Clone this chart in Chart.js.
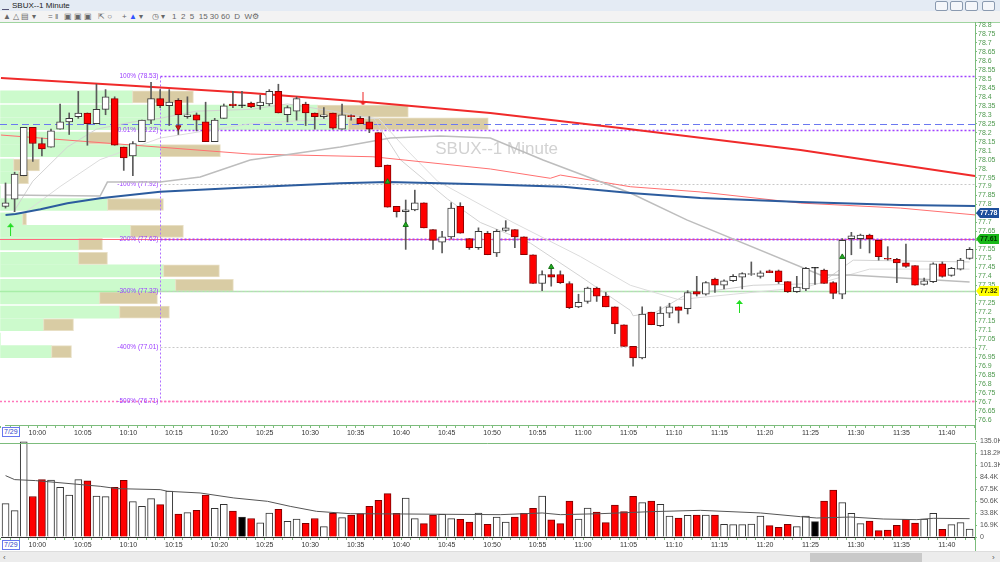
<!DOCTYPE html>
<html>
<head>
<meta charset="utf-8">
<script src="https://cdn.jsdelivr.net/npm/chart.js@4.4.0/dist/chart.umd.min.js"></script>
<style>
  body { margin: 0; width: 1000px; height: 562px; overflow: hidden; background: #fff; position: relative; font-family: "Liberation Sans", Arial, sans-serif; }
  #titlebar { position: absolute; left: 0; top: 0; width: 1000px; height: 11px; background: #e4ebf4; font-size: 8px; line-height: 11px; color: #222; }
  #titlebar .ico { position: absolute; left: 2px; top: 2px; width: 7px; height: 7px; border-bottom: 1px solid #557; }
  #titlebar .name { position: absolute; left: 12px; top: 0; }
  #titlebar .btn { position: absolute; top: 1px; width: 11px; height: 8px; border: 1px solid #8a9ab0; border-radius: 2px; background: #f4f6fa; }
  #toolbar { position: absolute; left: 0; top: 11px; width: 1000px; height: 11px; background: #f3f3f3; font-size: 8px; line-height: 11px; color: #666; border-bottom: 1px solid #9fd49f; }
  #toolbar span { position: absolute; top: 0; }
  .box { position: absolute; font-size: 7px; line-height: 8px; color: #3344cc; border: 1px solid #6677ee; padding: 0 1px; background: #fff; }
  #price { position: absolute; left: 0; top: 22px; }
  #volume { position: absolute; left: 0; top: 436px; }
  #scroll { position: absolute; left: 0; top: 551px; width: 1000px; height: 11px; background: #ececec; border-top: 1px solid #ddd; }
  #scroll .thumb { position: absolute; left: 810px; top: 1px; width: 112px; height: 9px; background: #c9c9c9; }
  #scroll .a { position: absolute; top: 0; font-size: 8px; line-height: 11px; color: #555; }
</style>
</head>
<body>
<div id="titlebar">
  <div class="ico"></div><div class="name">SBUX--1 Minute</div>
  <div class="btn" style="left:935px"></div><div class="btn" style="left:950px"></div>
  <div class="btn" style="left:965px"></div><div class="btn" style="left:982px"></div>
</div>
<div id="toolbar">
  <span style="left:3px">&#9650; &#9651; &#9636; &#9662;</span>
  <span style="left:48px">= &#8214;</span>
  <span style="left:64px">&#9635; &#9635; &#9635;</span>
  <span style="left:98px">&#8689; &#9675;</span>
  <span style="left:122px">+ <b style="color:#3355ff">&#9650;</b> &#9662;</span>
  <span style="left:152px">&#9719; &#9662;</span>
  <span style="left:172px">1&nbsp;&nbsp;2&nbsp;&nbsp;5&nbsp;&nbsp;15&nbsp;30&nbsp;60&nbsp;&nbsp;D&nbsp;&nbsp;W</span>
  <span style="left:252px">&#9881;</span>
</div>
<canvas id="price" width="1000" height="418"></canvas>
<canvas id="volume" width="1000" height="115"></canvas>
<div class="box" style="left:2px;top:427px">7/29</div>
<div class="box" style="left:2px;top:540px">7/29</div>
<div id="scroll"><span class="a" style="left:3px">&#8249;</span><div class="thumb"></div><span class="a" style="left:992px">&#8250;</span></div>
<script>
// one-minute candles, 9:57 .. 11:43
const candleOpen = [77.79,77.83,77.96,78.23,78.14,78.12,78.22,78.26,78.29,78.31,78.25,78.33,78.39,78.12,78.07,78.15,78.27,78.39,78.35,78.38,
  78.29,78.30,78.26,78.15,78.28,78.36,78.35,78.365,78.35,78.36,78.43,78.30,78.32,78.36,78.31,78.29,78.31,78.22,78.295,78.28,
  78.26,78.20,78.02,77.79,77.76,77.77,77.81,77.66,77.59,77.62,77.79,77.61,77.56,77.64,77.53,77.655,77.66,77.62,77.52,77.36,
  77.41,77.41,77.36,77.23,77.26,77.335,77.29,77.23,77.13,77.01,76.945,77.20,77.125,77.195,77.23,77.22,77.315,77.30,77.385,77.35,
  77.375,77.395,77.41,77.40,77.43,77.43,77.37,77.315,77.33,77.445,77.435,77.365,77.30,77.61,77.61,77.63,77.60,77.50,77.495,77.475,
  77.46,77.355,77.37,77.47,77.405,77.44,77.50];
const candleHigh = [77.92,77.98,78.23,78.23,78.17,78.22,78.36,78.31,78.43,78.31,78.47,78.44,78.40,78.12,78.15,78.27,78.48,78.44,78.44,78.39,
  78.40,78.31,78.37,78.28,78.36,78.43,78.43,78.37,78.41,78.44,78.47,78.35,78.40,78.37,78.31,78.34,78.31,78.36,78.30,78.29,
  78.29,78.20,78.02,77.79,77.825,77.88,77.81,77.66,77.65,77.81,77.81,77.61,77.67,77.65,77.66,77.71,77.66,77.62,77.52,77.43,
  77.45,77.43,77.37,77.30,77.34,77.34,77.31,77.23,77.13,77.01,77.23,77.20,77.23,77.25,77.23,77.32,77.40,77.37,77.39,77.38,
  77.41,77.42,77.48,77.43,77.435,77.435,77.37,77.40,77.45,77.45,77.44,77.37,77.61,77.645,77.635,77.635,77.60,77.565,77.50,77.58,
  77.46,77.39,77.475,77.48,77.45,77.50,77.56];
const candleLow = [77.78,77.76,77.96,78.04,78.07,78.12,78.22,78.19,78.28,78.13,78.25,78.30,78.13,77.99,77.96,78.15,78.25,78.34,78.24,78.19,
  78.28,78.21,78.15,78.15,78.28,78.34,78.34,78.34,78.33,78.35,78.31,78.26,78.27,78.24,78.22,78.28,78.22,78.22,78.27,78.25,
  78.20,78.01,77.785,77.73,77.55,77.765,77.67,77.55,77.53,77.61,77.64,77.55,77.55,77.52,77.51,77.65,77.56,77.52,77.36,77.32,
  77.345,77.36,77.22,77.225,77.25,77.26,77.23,77.08,77.01,76.90,76.94,77.13,77.12,77.17,77.14,77.19,77.29,77.295,77.31,77.33,
  77.37,77.33,77.405,77.39,77.42,77.36,77.31,77.31,77.32,77.355,77.36,77.275,77.275,77.52,77.555,77.53,77.49,77.49,77.365,77.45,
  77.35,77.35,77.365,77.395,77.40,77.435,77.495];
const candleClose = [77.81,77.97,78.23,78.14,78.11,78.21,78.26,78.28,78.31,78.25,78.33,78.40,78.13,78.06,78.14,78.27,78.39,78.35,78.37,78.30,
  78.30,78.27,78.15,78.27,78.35,78.35,78.35,78.345,78.37,78.43,78.31,78.34,78.39,78.31,78.29,78.30,78.225,78.30,78.29,78.25,
  78.22,78.01,77.785,77.76,77.77,77.81,77.67,77.60,77.62,77.78,77.64,77.56,77.65,77.52,77.65,77.67,77.62,77.52,77.36,77.41,
  77.395,77.365,77.225,77.255,77.335,77.29,77.23,77.135,77.01,76.945,77.19,77.13,77.195,77.23,77.21,77.31,77.30,77.365,77.35,77.375,
  77.40,77.415,77.415,77.42,77.42,77.37,77.315,77.34,77.445,77.445,77.36,77.305,77.60,77.625,77.63,77.61,77.51,77.495,77.475,77.455,
  77.35,77.375,77.47,77.40,77.445,77.49,77.55];
const volumeK = [46.9,37,134,57,80.7,80,70,59,80.7,79,57.7,56.7,70,79.7,49.7,43,54,45.5,64.7,32.4,
  34.2,37.5,59,40.3,46,36.6,28,26,20,33.8,39,22,25.3,19.2,26,14.5,33.3,27.2,31,32.8,
  43,51.6,61,33.3,54.8,25.8,18.8,31,31.9,25.8,24.8,21,33.8,17.8,28,21,28,33.3,40.3,57.7,
  24,18.8,50.6,25.3,40.8,35.2,20.2,45,35.6,57.2,48.3,50.6,46,29.5,26.7,30.5,31,31,31,17.8,
  17.3,17.3,18.3,29.5,16,13.6,17.8,14.5,29.5,21.6,50.6,66,48.3,33.3,18.8,22.5,8.9,9.8,16.4,24.8,
  19.7,25.3,33.3,10.8,17.3,20.2,11.2];

// time axis: 10:00 falls on the boundary after bar 3
const timeLabels = ['10:00','10:05','10:10','10:15','10:20','10:25','10:30','10:35','10:40','10:45','10:50',
  '10:55','11:00','11:05','11:10','11:15','11:20','11:25','11:30','11:35','11:40'];
const firstLabelAt = 3.5;
const volTickLabels = ['0','16.9K','33.8K','50.6K','67.5K','84.4K','101.3K','118.2K','135.0K'];

// indicator lines, [bar index, price]
const maRedSlow = [[-0.5,78.505],[13,78.465],[26.9,78.421],[40,78.37],[53.3,78.31],[67.6,78.226],[87.4,78.104],[106.6,77.959]];
const maBlue = [[0,77.742],[1.1,77.747],[3.85,77.773],[6.8,77.807],[10.4,77.835],[17,77.871],[26.9,77.896],[36.8,77.918],[42,77.925],
  [47.8,77.918],[53.3,77.911],[61.3,77.899],[68.7,77.864],[76.4,77.836],[87.4,77.814],[98.4,77.797],[106.6,77.792]];
const maRedThin = [[-0.5,78.187],[26.9,78.081],[40.4,78.066],[53.3,77.998],[59.9,77.946],[61,77.964],[68.7,77.899],[76.4,77.87],
  [87.4,77.808],[98.4,77.78],[106.6,77.742]];
const maGrayMid = [[0,77.853],[10.4,77.847],[11.2,77.925],[17,77.925],[21.4,77.953],[26.9,78.048],[36.8,78.12],[42.3,78.17],[47.8,78.182],
  [53.3,78.17],[59.1,78.048],[68.7,77.864],[74.9,77.714],[89.6,77.407],[92.9,77.407],[106,77.368]];
const maGrayFast = [[0.9,77.76],[3,77.93],[6.8,78.12],[10,78.22],[14,78.26],[17,78.28],[21,78.32],[26.9,78.33],[31,78.36],[36,78.32],
  [40.5,78.28],[43.4,78.05],[48.6,77.83],[52.2,77.70],[57.7,77.585],[63.2,77.40],[68.7,77.21],[69,77.18],[71.5,77.20],[74.9,77.30],
  [82.2,77.35],[89.6,77.36],[93.2,77.49],[106,77.48]];
const maGrayLight = [[2,77.75],[6,77.90],[10.4,78.05],[17,78.17],[26.9,78.25],[36.8,78.28],[41,78.28],[44.2,78.10],[47.5,77.93],
  [55.8,77.70],[63.2,77.51],[68.7,77.35],[74,77.27],[80,77.30],[88,77.34],[95,77.44],[106,77.44]];
const volAvgK = [[0,86.3],[1,80.7],[3.3,79.3],[10.4,71.3],[12.3,68],[17,66.6],[17.8,64.3],[21.4,61.9],[25.1,54.9],[28.8,50.2],
  [31.3,43.1],[34.2,36.1],[37.9,32.8],[43.4,32.4],[54.4,31.4],[59,33.8],[61,31.4],[65.4,32.8],[70.9,35.6],[76.4,37.5],[83,33.8],
  [87.4,28.6],[89.2,26.7],[92.9,28.1],[96.5,25.3],[100.2,24.4],[102,26.3],[106,25.8]];

// volume profile by price row: buy (green) and sell (tan) parts
const profilePrice = [78.40,78.32,78.25,78.17,78.10,78.02,77.95,77.87,77.80,77.72,77.65,77.58,77.50,77.43,77.35,77.28,77.20,77.13,77.05,76.98];
const profileBuy  = [132,317,348,88,160,13,18,0,107,22,130,78,78,163,175,99,119,43,0,51];
const profileSell = [61,91,140,24,60,26,10,0,56,4,53,24,29,56,58,58,50,30,0,20];

// fibonacci levels drawn from the swing at bar 17
const fibPrice = [78.516,78.215,77.914,77.608,77.318,77.006,76.705];
const fibLabel = ['100% (78.53)','0.01% (78.22)','-100% (77.92)','200% (77.62)','-300% (77.32)','-400% (77.01)','-500% (76.71)'];
const fibStart = 17;

// signal markers
const upTriangles = [[42,77.927],[44,77.686],[60,77.452],[92,77.508]];
const downTriangles = [[19,78.23]];
const greenArrows = [[0.55,77.66],[80.7,77.232]];
const redArrows = [[39.3,78.388]];

// right-axis price flags
const flags = [
  { price: 77.753, text: '77.78', bg: '#1d4f9c', fg: '#ffffff' },
  { price: 77.61, text: '77.61', bg: '#18b818', fg: '#003300' },
  { price: 77.32, text: '77.32', bg: '#ffff00', fg: '#333300' }
];

// screen calibration of the original window
const PRICE_TOP = 22, VOL_TOP = 436;
const BAR0_X = 5, BAR_W = 9.1;              // first bar centre, bar spacing
const PRICE_REF = 78.8, PRICE_REF_Y = 25, PX_PER_DOLLAR = 179.5;
const VOL_ZERO_Y = 537, VOL_TOP_Y = 441, VOL_TOP_K = 135;

const GREEN_AX = '#7cbc7c';
const tickFont = { family: 'Liberation Sans', size: 7 };

function pts(arr) { return arr.map(p => ({ x: p[0], y: p[1] })); }

function bodyColor(i) {
  if (candleClose[i] > candleOpen[i]) return '#ffffff';
  if (candleClose[i] < candleOpen[i]) return '#ff0000';
  return '#000000';
}
function edgeColor(i) {
  if (candleClose[i] < candleOpen[i]) return '#8a0000';
  return '#3a3a3a';
}

function arrowStyle(color, up) {
  const c = document.createElement('canvas');
  c.width = 7; c.height = 13;
  const g = c.getContext('2d');
  g.fillStyle = color;
  g.beginPath();
  if (up) {
    g.moveTo(3.5, 0); g.lineTo(0, 4); g.lineTo(7, 4); g.closePath(); g.fill();
    g.fillRect(3, 3, 1, 10);
  } else {
    g.moveTo(3.5, 13); g.lineTo(0, 9); g.lineTo(7, 9); g.closePath(); g.fill();
    g.fillRect(3, 0, 1, 10);
  }
  return c;
}

function minuteTicks(scale) {
  const ticks = [];
  for (let v = -0.5; v <= 106.5; v += 1) ticks.push({ value: v });
  scale.ticks = ticks;
}
function minuteLabel(value) {
  const k = (value - firstLabelAt) / 5;
  if (Math.abs(k - Math.round(k)) < 1e-6 && k >= 0 && k < timeLabels.length) return timeLabels[Math.round(k)];
  return '';
}
function fixSize(h, w) {
  return function (s) {
    if (h !== undefined) s.height = h;
    if (w !== undefined) s.width = w;
  };
}

function framePlugin(withTop) {
  return {
    id: 'frame',
    afterDraw(chart) {
      const { ctx, chartArea: a } = chart;
      const xr = Math.round(a.right) + 0.5;
      ctx.save();
      ctx.strokeStyle = GREEN_AX; ctx.lineWidth = 1;
      ctx.beginPath();
      if (withTop) { ctx.moveTo(0, Math.round(a.top) + 0.5); ctx.lineTo(xr, Math.round(a.top) + 0.5); }
      ctx.moveTo(xr, withTop ? a.top : 0); ctx.lineTo(xr, chart.height);
      ctx.stroke();
      ctx.restore();
    }
  };
}

// watermark behind everything; level lines right after the volume profile
const fibPlugin = {
  id: 'fib',
  beforeDatasetsDraw(chart) {
    const { ctx, scales } = chart;
    ctx.save();
    ctx.fillStyle = '#d2d2d2';
    ctx.font = '17px "Liberation Sans", Arial';
    ctx.textAlign = 'center'; ctx.textBaseline = 'middle';
    ctx.fillText('SBUX--1 Minute', scales.x.getPixelForValue(54), scales.y.getPixelForValue(78.11));
    ctx.restore();
  },
  afterDatasetDraw(chart, args) {
    if (args.index !== 1) return;
    const { ctx, chartArea: a, scales } = chart;
    const y = scales.y, x = scales.x;
    const x0 = Math.round(x.getPixelForValue(fibStart)) + 0.5;
    ctx.save();
    const line = (yy, from, color, width, dash) => {
      ctx.beginPath();
      ctx.setLineDash(dash);
      ctx.strokeStyle = color; ctx.lineWidth = width;
      ctx.moveTo(from, yy); ctx.lineTo(a.right, yy); ctx.stroke();
    };
    const py = p => Math.round(y.getPixelForValue(p)) + 0.5;
    // full-width guide lines
    line(py(78.25), 0, '#6b78f0', 1, [7, 4]);
    line(py(fibPrice[3]), 0, '#ff6a7e', 1, []);
    line(py(fibPrice[4]), 0, '#a8eea8', 1.5, []);
    line(py(fibPrice[6]), 0, '#ff77bb', 1.5, [2, 2]);
    // fib levels
    const styles = [
      ['#a040ff', 1.5, [2, 2]], ['#a040ff', 1.5, [2, 2]], ['#c8c8c8', 1, [2, 2]], ['#a040ff', 2, [2, 2]],
      ['#c8c8c8', 1, [2, 2]], ['#c8c8c8', 1, [2, 2]], ['#ff77bb', 1.5, [2, 2]]
    ];
    fibPrice.forEach((p, i) => line(py(p), x0, styles[i][0], styles[i][1], styles[i][2]));
    // vertical anchor
    ctx.beginPath(); ctx.setLineDash([2, 2]); ctx.strokeStyle = '#b070ff'; ctx.lineWidth = 1;
    ctx.moveTo(x0, py(fibPrice[0])); ctx.lineTo(x0, py(fibPrice[6])); ctx.stroke();
    ctx.setLineDash([]);
    ctx.font = '6.5px "Liberation Sans", Arial';
    ctx.fillStyle = '#9a3cff';
    ctx.textAlign = 'right'; ctx.textBaseline = 'middle';
    fibPrice.forEach((p, i) => ctx.fillText(fibLabel[i], x0 - 2, py(p)));
    ctx.restore();
  }
};

const flagPlugin = {
  id: 'flags',
  afterDraw(chart) {
    const { ctx, chartArea: a, scales } = chart;
    ctx.save();
    ctx.font = 'bold 7px "Liberation Sans", Arial';
    ctx.textBaseline = 'middle'; ctx.textAlign = 'left';
    flags.forEach(f => {
      const yy = Math.round(scales.y.getPixelForValue(f.price));
      const l = a.right + 1;
      ctx.fillStyle = f.bg;
      ctx.beginPath();
      ctx.moveTo(l, yy); ctx.lineTo(l + 4, yy - 5); ctx.lineTo(l + 23, yy - 5);
      ctx.lineTo(l + 23, yy + 5); ctx.lineTo(l + 4, yy + 5); ctx.closePath(); ctx.fill();
      ctx.fillStyle = f.fg;
      ctx.fillText(f.text, l + 4, yy + 0.5);
    });
    ctx.restore();
  }
};

const candleIdx = candleOpen.map((_, i) => i);
const lineDs = (arr, color, width, order) =>
  ({ type: 'line', data: pts(arr), borderColor: color, borderWidth: width, pointRadius: 0, order: order, clip: false });

const priceChart = new Chart(document.getElementById('price'), {
  type: 'bar',
  data: {
    datasets: [
      {
        type: 'bar', label: 'buy profile', indexAxis: 'y', xAxisID: 'vp', yAxisID: 'y', order: 20, clip: false,
        data: profilePrice.map((p, i) => ({ y: p, x: [0, profileBuy[i]] })),
        backgroundColor: '#ccfacc', borderWidth: 0, barThickness: 12, grouped: false
      },
      {
        type: 'bar', label: 'sell profile', indexAxis: 'y', xAxisID: 'vp', yAxisID: 'y', order: 19, clip: false,
        data: profilePrice.map((p, i) => ({ y: p, x: [profileBuy[i], profileBuy[i] + profileSell[i]] })),
        backgroundColor: '#d9cca4', borderColor: '#e8dfc4', borderWidth: 1, borderSkipped: false, barThickness: 12, grouped: false
      },
      lineDs(maGrayLight, '#dcdcdc', 1, 9),
      lineDs(maGrayFast, '#d2d2d2', 1, 9),
      lineDs(maGrayMid, '#bdbdbd', 1.5, 8),
      lineDs(maRedThin, '#ff7070', 1, 8),
      lineDs(maBlue, '#2c5c9e', 2, 7),
      lineDs(maRedSlow, '#f02a2a', 2, 7),
      {
        type: 'bar', label: 'wick', order: 3, grouped: false, barThickness: 1, clip: false,
        data: candleIdx.map(i => ({ x: i, y: [candleLow[i], candleHigh[i]] })),
        backgroundColor: '#5a5a5a', borderWidth: 0
      },
      {
        type: 'bar', label: 'body', order: 2, grouped: false, barThickness: 7, minBarLength: 1, clip: false,
        data: candleIdx.map(i => ({ x: i, y: [candleOpen[i], candleClose[i]] })),
        backgroundColor: candleIdx.map(bodyColor), borderColor: candleIdx.map(edgeColor),
        borderWidth: 1, borderSkipped: false
      },
      {
        type: 'scatter', data: pts(upTriangles), pointStyle: 'triangle', pointRadius: 3, clip: false,
        backgroundColor: '#22b022', borderColor: '#127012', borderWidth: 1, order: 1
      },
      {
        type: 'scatter', data: pts(downTriangles), pointStyle: 'triangle', rotation: 180, pointRadius: 3,
        backgroundColor: '#e01010', borderColor: '#901010', borderWidth: 1, order: 1
      },
      { type: 'scatter', data: pts(greenArrows), pointStyle: arrowStyle('#22dd22', true), order: 1, clip: false },
      { type: 'scatter', data: pts(redArrows), pointStyle: arrowStyle('#ee2222', false), order: 1 }
    ]
  },
  options: {
    responsive: false, animation: false,
    layout: { padding: 0 },
    plugins: { legend: { display: false }, tooltip: { enabled: false } },
    scales: {
      x: {
        type: 'linear', min: -0.5, max: 106.6, position: 'bottom', offset: false,
        afterBuildTicks: minuteTicks, afterFit: fixSize(15),
        ticks: { autoSkip: false, maxRotation: 0, color: '#333', font: tickFont, padding: 1, callback: minuteLabel },
        grid: { drawOnChartArea: false, offset: false, color: GREEN_AX, tickLength: 3 },
        border: { color: GREEN_AX }
      },
      y: {
        type: 'linear', position: 'right', min: 76.57, max: 78.82, offset: false,
        afterBuildTicks: s => {
          const t = [];
          for (let k = 0; k <= 44; k++) t.push({ value: Math.round((76.6 + k * 0.05) * 100) / 100 });
          s.ticks = t;
        },
        afterFit: fixSize(undefined, 25),
        ticks: {
          autoSkip: false, color: '#4f9a4f', font: tickFont, padding: 1,
          callback: v => { const s = String(Math.round(v * 100) / 100); return s.indexOf('.') < 0 ? s + '.' : s; }
        },
        grid: { drawOnChartArea: false, offset: false, color: GREEN_AX, tickLength: 2 },
        border: { color: GREEN_AX }
      },
      vp: {
        type: 'linear', axis: 'x', position: 'top', min: 0, max: 975, offset: false,
        ticks: { display: false }, grid: { display: false, drawTicks: false }, border: { display: false },
        afterFit: fixSize(0)
      }
    }
  },
  plugins: [fibPlugin, framePlugin(false), flagPlugin]
});

const volumeChart = new Chart(document.getElementById('volume'), {
  type: 'bar',
  data: {
    datasets: [
      { type: 'line', data: pts(volAvgK), borderColor: '#555', borderWidth: 1, pointRadius: 0, order: 1, clip: false },
      {
        type: 'bar', order: 2, barThickness: 7, grouped: false, clip: false,
        data: candleIdx.map(i => ({ x: i, y: volumeK[i] })),
        backgroundColor: candleIdx.map(bodyColor),
        borderColor: candleIdx.map(i => candleClose[i] < candleOpen[i] ? '#7a0000' : '#333'),
        borderWidth: 1
      }
    ]
  },
  options: {
    responsive: false, animation: false,
    layout: { padding: { top: 5 } },
    plugins: { legend: { display: false }, tooltip: { enabled: false } },
    scales: {
      x: {
        type: 'linear', min: -0.5, max: 106.6, position: 'bottom', offset: false,
        afterBuildTicks: minuteTicks, afterFit: fixSize(14),
        ticks: { autoSkip: false, maxRotation: 0, color: '#333', font: tickFont, padding: 1, callback: minuteLabel },
        grid: { drawOnChartArea: false, offset: false, color: GREEN_AX, tickLength: 3 },
        border: { color: '#333' }
      },
      y: {
        type: 'linear', position: 'right', min: 0, max: 135, offset: false,
        afterBuildTicks: s => { s.ticks = volTickLabels.map((_, k) => ({ value: k * 16.875 })); },
        afterFit: fixSize(undefined, 25),
        ticks: { autoSkip: false, color: '#555', font: tickFont, padding: 3, callback: (v, k) => volTickLabels[k] },
        grid: { drawOnChartArea: false, color: GREEN_AX, tickLength: 2 },
        border: { color: GREEN_AX }
      }
    }
  },
  plugins: [framePlugin(true)]
});

// match the axis ranges to the original window's pixel grid
function calibrate() {
  let a = priceChart.chartArea;
  const px = priceChart.options.scales;
  px.x.min = (a.left - BAR0_X) / BAR_W;
  px.x.max = (a.right - BAR0_X) / BAR_W;
  px.y.max = PRICE_REF - (PRICE_TOP + a.top - PRICE_REF_Y) / PX_PER_DOLLAR;
  px.y.min = PRICE_REF - (PRICE_TOP + a.bottom - PRICE_REF_Y) / PX_PER_DOLLAR;
  const vp = priceChart.scales.vp;
  px.vp.min = vp.left;     // profile lengths are read in screen pixels from the left edge
  px.vp.max = vp.right;
  priceChart.update();

  a = volumeChart.chartArea;
  const vx = volumeChart.options.scales;
  vx.x.min = (a.left - BAR0_X) / BAR_W;
  vx.x.max = (a.right - BAR0_X) / BAR_W;
  const kPerPx = VOL_TOP_K / (VOL_ZERO_Y - VOL_TOP_Y);
  vx.y.max = (VOL_ZERO_Y - (VOL_TOP + a.top)) * kPerPx;
  vx.y.min = (VOL_ZERO_Y - (VOL_TOP + a.bottom)) * kPerPx;
  volumeChart.update();
}
calibrate();
</script>
</body>
</html>
